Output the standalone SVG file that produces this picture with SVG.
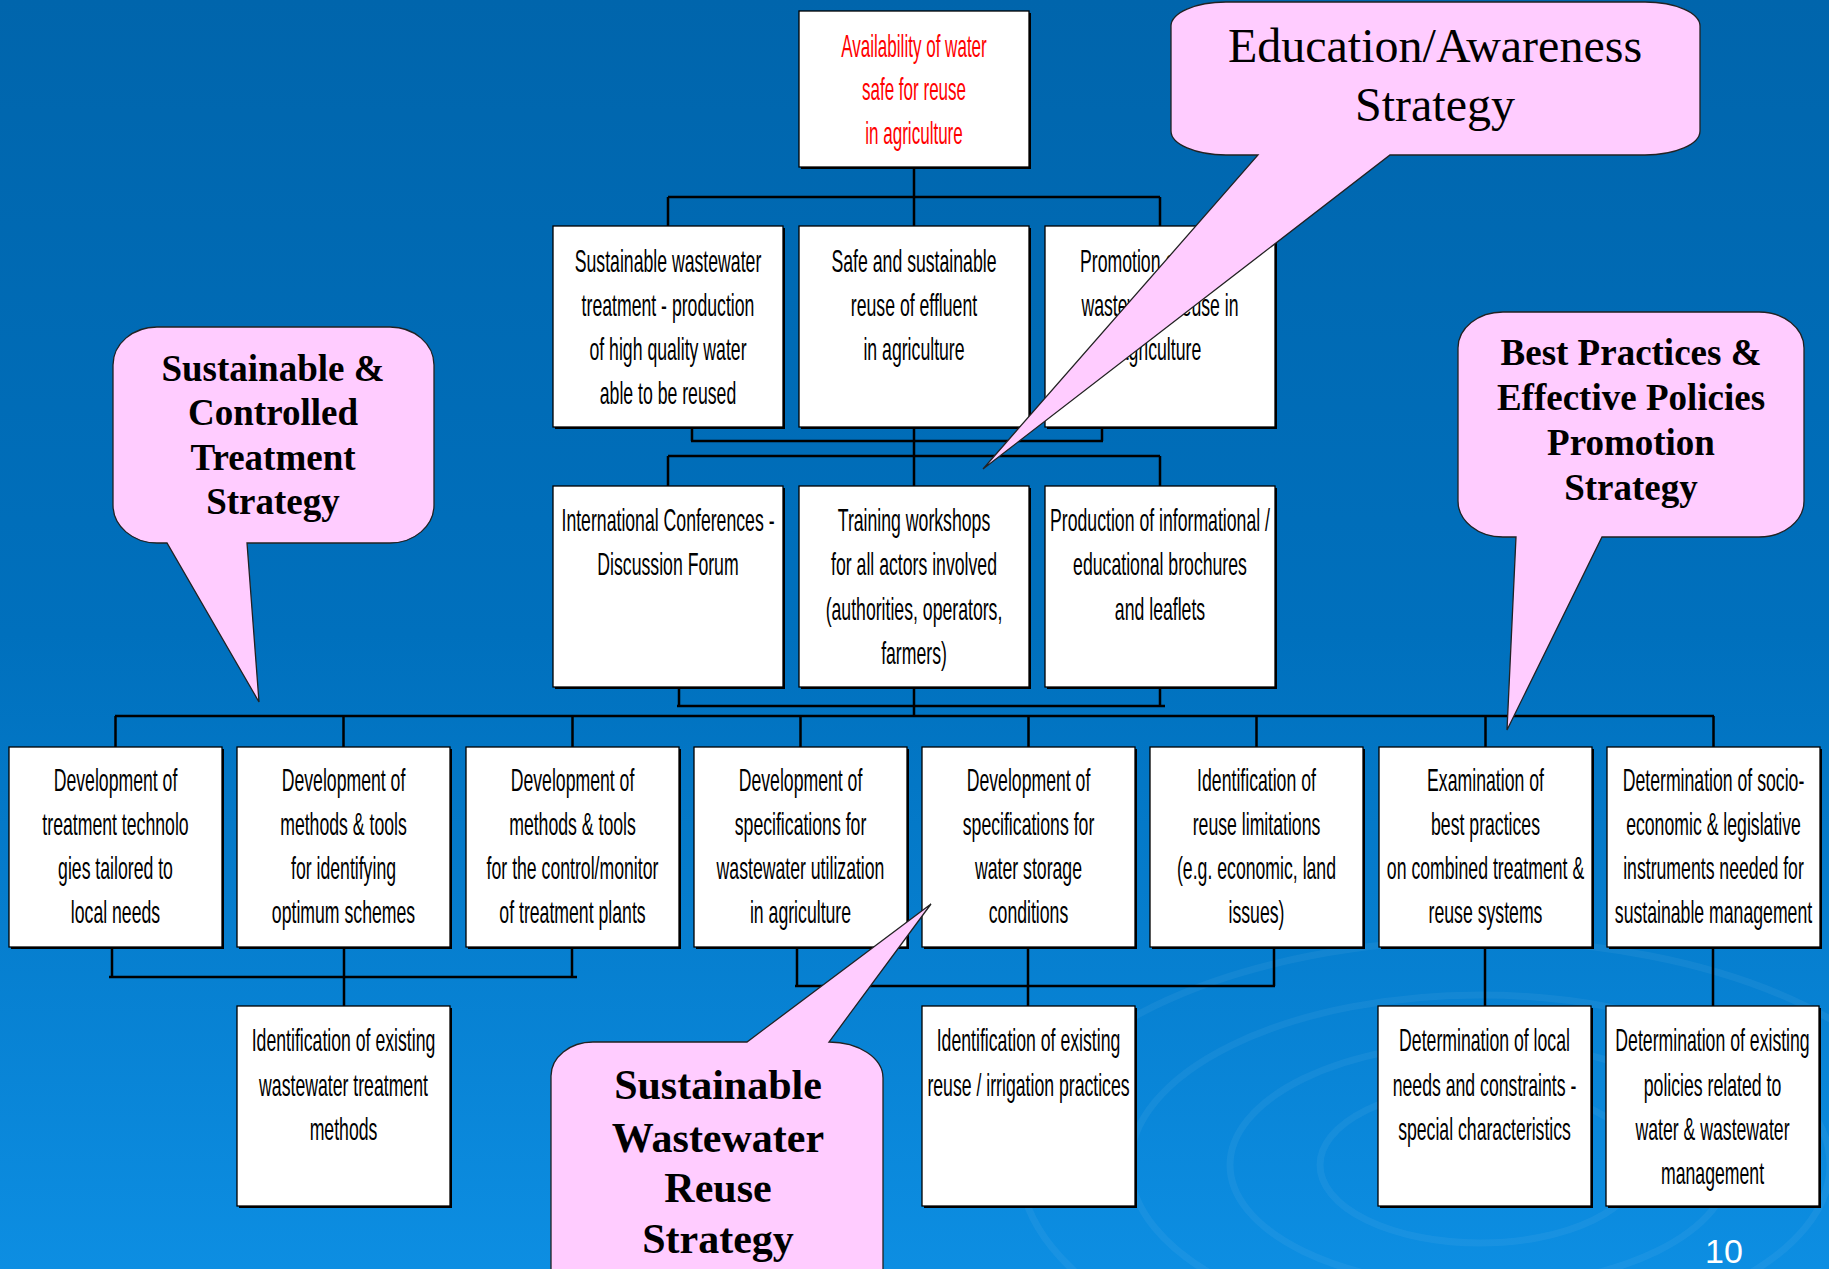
<svg xmlns="http://www.w3.org/2000/svg" width="1829" height="1269" viewBox="0 0 1829 1269">
<defs>
<linearGradient id="bg" x1="0" y1="0" x2="0" y2="1">
<stop offset="0" stop-color="#0065AC"/>
<stop offset="0.5" stop-color="#0070BD"/>
<stop offset="1" stop-color="#0D8EE2"/>
</linearGradient>
<style>
.box{fill:#fff;stroke:#000;stroke-width:1.3}
.sh{fill:#000}
.t{font-family:"Liberation Sans",Arial,sans-serif;font-size:31px;fill:#000;text-anchor:middle}
.red{fill:#FF0000}
.bub{fill:#FFCCFF;stroke:#222;stroke-width:1.3}
.bt{font-family:"Liberation Serif","Times New Roman",serif;fill:#000;text-anchor:middle}
.b37{font-size:37px;font-weight:bold}
.rip{fill:none;stroke:#ffffff;stroke-opacity:0.05;stroke-width:7}
</style>
</defs>
<rect x="0" y="0" width="1829" height="1269" fill="url(#bg)"/>
<g id="ripples">
<ellipse class="rip" cx="1480" cy="1165" rx="80" ry="38"/>
<ellipse class="rip" cx="1480" cy="1165" rx="160" ry="78"/>
<ellipse class="rip" cx="1480" cy="1165" rx="250" ry="122"/>
<ellipse class="rip" cx="1480" cy="1165" rx="350" ry="170"/>
<ellipse class="rip" cx="1480" cy="1165" rx="460" ry="225"/>
</g>
<g id="connectors" stroke="#000" stroke-width="2.5" fill="none">
<path d="M914,167 V226 M668,197 H1160 M668,197 V226 M1160,197 V226"/>
<path d="M692,427 V441 M1102,427 V441 M691,441 H1103 M914,427 V486 M668,456 H1160 M668,456 V486 M1160,456 V486"/>
<path d="M679,687 V706 M1160,687 V706 M677,706 H1165 M914,687 V716 M115,716 H1714"/>
<path d="M115.5,716 V747 M343.5,716 V747 M572.5,716 V747 M800.5,716 V747 M1028.5,716 V747 M1256.5,716 V747 M1485.5,716 V747 M1713.5,716 V747"/>
<path d="M112,947 V977 M344,947 V1006 M572,947 V977 M109,977 H577"/>
<path d="M797,947 V986 M1028,947 V1006 M1274,947 V986 M795,986 H1275"/>
<path d="M1485,947 V1006 M1713,947 V1006"/>
</g>
<g id="n-top"><rect class="sh" x="801" y="13" width="230" height="156"/><rect class="box" x="799" y="11" width="230" height="156"/>
<text class="t red" transform="translate(914 0) scale(0.55 1)"><tspan x="0" y="57">Availability of water</tspan><tspan x="0" y="100">safe for reuse</tspan><tspan x="0" y="144">in agriculture</tspan></text></g>

<g id="n-2a"><rect class="sh" x="555" y="228" width="230" height="201"/><rect class="box" x="553" y="226" width="230" height="201"/>
<text class="t" transform="translate(668 0) scale(0.57 1)"><tspan x="0" y="272">Sustainable wastewater</tspan><tspan x="0" y="316">treatment - production</tspan><tspan x="0" y="360">of high quality water</tspan><tspan x="0" y="404">able to be reused</tspan></text></g>
<g id="n-2b"><rect class="sh" x="801" y="228" width="230" height="201"/><rect class="box" x="799" y="226" width="230" height="201"/>
<text class="t" transform="translate(914 0) scale(0.57 1)"><tspan x="0" y="272">Safe and sustainable</tspan><tspan x="0" y="316">reuse of effluent</tspan><tspan x="0" y="360">in agriculture</tspan></text></g>
<g id="n-2c"><rect class="sh" x="1047" y="228" width="230" height="201"/><rect class="box" x="1045" y="226" width="230" height="201"/>
<text class="t" transform="translate(1160 0) scale(0.57 1)"><tspan x="0" y="272">Promotion of treated</tspan><tspan x="0" y="316">wastewater reuse in</tspan><tspan x="0" y="360">agriculture</tspan></text></g>

<g id="n-3a"><rect class="sh" x="555" y="488" width="230" height="201"/><rect class="box" x="553" y="486" width="230" height="201"/>
<text class="t" transform="translate(668 0) scale(0.57 1)"><tspan x="0" y="531">International Conferences -</tspan><tspan x="0" y="575">Discussion Forum</tspan></text></g>
<g id="n-3b"><rect class="sh" x="801" y="488" width="230" height="201"/><rect class="box" x="799" y="486" width="230" height="201"/>
<text class="t" transform="translate(914 0) scale(0.57 1)"><tspan x="0" y="531">Training workshops</tspan><tspan x="0" y="575">for all actors involved</tspan><tspan x="0" y="620">(authorities, operators,</tspan><tspan x="0" y="664">farmers)</tspan></text></g>
<g id="n-3c"><rect class="sh" x="1047" y="488" width="230" height="201"/><rect class="box" x="1045" y="486" width="230" height="201"/>
<text class="t" transform="translate(1160 0) scale(0.57 1)"><tspan x="0" y="531">Production of informational /</tspan><tspan x="0" y="575">educational brochures</tspan><tspan x="0" y="620">and leaflets</tspan></text></g>

<g id="n-4-1"><rect class="sh" x="11" y="749" width="213" height="200"/><rect class="box" x="9" y="747" width="213" height="200"/>
<text class="t" transform="translate(115.5 0) scale(0.57 1)"><tspan x="0" y="791">Development of</tspan><tspan x="0" y="835">treatment technolo</tspan><tspan x="0" y="879">gies tailored to</tspan><tspan x="0" y="923">local needs</tspan></text></g>
<g id="n-4-2"><rect class="sh" x="239" y="749" width="213" height="200"/><rect class="box" x="237" y="747" width="213" height="200"/>
<text class="t" transform="translate(343.5 0) scale(0.57 1)"><tspan x="0" y="791">Development of</tspan><tspan x="0" y="835">methods &amp; tools</tspan><tspan x="0" y="879">for identifying</tspan><tspan x="0" y="923">optimum schemes</tspan></text></g>
<g id="n-4-3"><rect class="sh" x="468" y="749" width="213" height="200"/><rect class="box" x="466" y="747" width="213" height="200"/>
<text class="t" transform="translate(572.5 0) scale(0.57 1)"><tspan x="0" y="791">Development of</tspan><tspan x="0" y="835">methods &amp; tools</tspan><tspan x="0" y="879">for the control/monitor</tspan><tspan x="0" y="923">of treatment plants</tspan></text></g>
<g id="n-4-4"><rect class="sh" x="696" y="749" width="213" height="200"/><rect class="box" x="694" y="747" width="213" height="200"/>
<text class="t" transform="translate(800.5 0) scale(0.57 1)"><tspan x="0" y="791">Development of</tspan><tspan x="0" y="835">specifications for</tspan><tspan x="0" y="879">wastewater utilization</tspan><tspan x="0" y="923">in agriculture</tspan></text></g>
<g id="n-4-5"><rect class="sh" x="924" y="749" width="213" height="200"/><rect class="box" x="922" y="747" width="213" height="200"/>
<text class="t" transform="translate(1028.5 0) scale(0.57 1)"><tspan x="0" y="791">Development of</tspan><tspan x="0" y="835">specifications for</tspan><tspan x="0" y="879">water storage</tspan><tspan x="0" y="923">conditions</tspan></text></g>
<g id="n-4-6"><rect class="sh" x="1152" y="749" width="213" height="200"/><rect class="box" x="1150" y="747" width="213" height="200"/>
<text class="t" transform="translate(1256.5 0) scale(0.57 1)"><tspan x="0" y="791">Identification of</tspan><tspan x="0" y="835">reuse limitations</tspan><tspan x="0" y="879">(e.g. economic, land</tspan><tspan x="0" y="923">issues)</tspan></text></g>
<g id="n-4-7"><rect class="sh" x="1381" y="749" width="213" height="200"/><rect class="box" x="1379" y="747" width="213" height="200"/>
<text class="t" transform="translate(1485.5 0) scale(0.57 1)"><tspan x="0" y="791">Examination of</tspan><tspan x="0" y="835">best practices</tspan><tspan x="0" y="879">on combined treatment &amp;</tspan><tspan x="0" y="923">reuse systems</tspan></text></g>
<g id="n-4-8"><rect class="sh" x="1609" y="749" width="213" height="200"/><rect class="box" x="1607" y="747" width="213" height="200"/>
<text class="t" transform="translate(1713.5 0) scale(0.57 1)"><tspan x="0" y="791">Determination of socio-</tspan><tspan x="0" y="835">economic &amp; legislative</tspan><tspan x="0" y="879">instruments needed for</tspan><tspan x="0" y="923">sustainable management</tspan></text></g>

<g id="n-5-1"><rect class="sh" x="239" y="1008" width="213" height="200"/><rect class="box" x="237" y="1006" width="213" height="200"/>
<text class="t" transform="translate(343.5 0) scale(0.57 1)"><tspan x="0" y="1051">Identification of existing</tspan><tspan x="0" y="1096">wastewater treatment</tspan><tspan x="0" y="1140">methods</tspan></text></g>
<g id="n-5-2"><rect class="sh" x="924" y="1008" width="213" height="200"/><rect class="box" x="922" y="1006" width="213" height="200"/>
<text class="t" transform="translate(1028.5 0) scale(0.57 1)"><tspan x="0" y="1051">Identification of existing</tspan><tspan x="0" y="1096">reuse / irrigation practices</tspan></text></g>
<g id="n-5-3"><rect class="sh" x="1380" y="1008" width="213" height="200"/><rect class="box" x="1378" y="1006" width="213" height="200"/>
<text class="t" transform="translate(1484.5 0) scale(0.57 1)"><tspan x="0" y="1051">Determination of local</tspan><tspan x="0" y="1096">needs and constraints -</tspan><tspan x="0" y="1140">special characteristics</tspan></text></g>
<g id="n-5-4"><rect class="sh" x="1608" y="1008" width="213" height="200"/><rect class="box" x="1606" y="1006" width="213" height="200"/>
<text class="t" transform="translate(1712.5 0) scale(0.57 1)"><tspan x="0" y="1051">Determination of existing</tspan><tspan x="0" y="1096">policies related to</tspan><tspan x="0" y="1140">water &amp; wastewater</tspan><tspan x="0" y="1184">management</tspan></text></g>

<g id="callout-education">
<path class="bub" d="M1226,2 H1645 A55 24 0 0 1 1700,26 V131 A55 24 0 0 1 1645,155 H1390 L983,469 L1258,155 H1226 A55 24 0 0 1 1171,131 V26 A55 24 0 0 1 1226,2 Z"/>
<text class="bt" font-size="48"><tspan x="1435" y="62">Education/Awareness</tspan><tspan x="1435" y="121">Strategy</tspan></text>
</g>
<g id="callout-treatment">
<path class="bub" d="M157,327 H390 A44 38 0 0 1 434,365 V505 A44 38 0 0 1 390,543 H247 L259,702 L167,543 H157 A44 38 0 0 1 113,505 V365 A44 38 0 0 1 157,327 Z"/>
<text class="bt b37"><tspan x="273" y="381">Sustainable &amp;</tspan><tspan x="273" y="425">Controlled</tspan><tspan x="273" y="470">Treatment</tspan><tspan x="273" y="514">Strategy</tspan></text>
</g>
<g id="callout-bestpractices">
<path class="bub" d="M1503,312 H1759 A45 36 0 0 1 1804,348 V501 A45 36 0 0 1 1759,537 H1602 L1507,730 L1516,537 H1503 A45 36 0 0 1 1458,501 V348 A45 36 0 0 1 1503,312 Z"/>
<text class="bt b37"><tspan x="1631" y="365">Best Practices &amp;</tspan><tspan x="1631" y="410">Effective Policies</tspan><tspan x="1631" y="455">Promotion</tspan><tspan x="1631" y="500">Strategy</tspan></text>
</g>
<g id="callout-reuse">
<path class="bub" d="M593,1042 H747 L931,904 L829,1042 A54 36 0 0 1 883,1078 V1276 A42 34 0 0 1 841,1310 H593 A42 34 0 0 1 551,1276 V1076 A42 34 0 0 1 593,1042 Z"/>
<text class="bt" font-size="42" font-weight="bold"><tspan x="718" y="1099">Sustainable</tspan><tspan x="718" y="1152">Wastewater</tspan><tspan x="718" y="1202">Reuse</tspan><tspan x="718" y="1253">Strategy</tspan></text>
</g>
<text id="page-number" x="1724" y="1263" font-family="Liberation Sans, Arial, sans-serif" font-size="34" fill="#fff" text-anchor="middle">10</text>
</svg>
